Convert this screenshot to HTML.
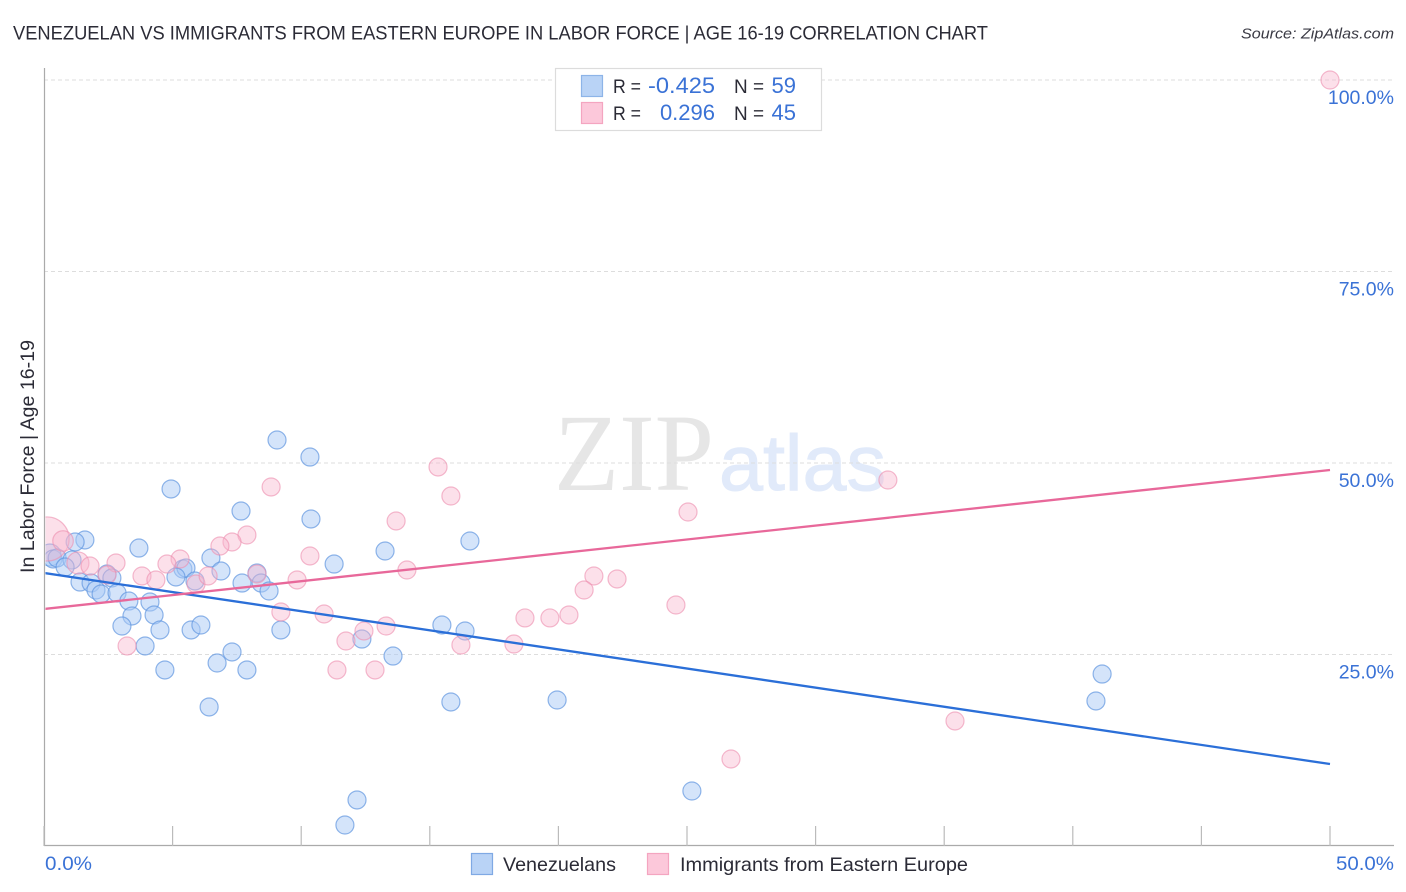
<!DOCTYPE html>
<html lang="en">
<head>
<meta charset="utf-8">
<title>Venezuelan vs Immigrants from Eastern Europe in Labor Force | Age 16-19 Correlation Chart</title>
<style>
html,body{margin:0;padding:0;background:#fff;width:1406px;height:892px;overflow:hidden}
svg{display:block;font-family:"Liberation Sans",sans-serif}
</style>
</head>
<body>
<svg id="chart" xmlns="http://www.w3.org/2000/svg" width="1406" height="892" viewBox="0 0 1406 892">
  <defs>
    <clipPath id="plot-clip"><rect x="45.5" y="60" width="1350" height="786"/></clipPath>
  </defs>
  <rect width="1406" height="892" fill="#ffffff"/>
  <text x="13" y="39.5" font-size="19.5" fill="#2b2b36" textLength="975" lengthAdjust="spacingAndGlyphs">VENEZUELAN VS IMMIGRANTS FROM EASTERN EUROPE IN LABOR FORCE | AGE 16-19 CORRELATION CHART</text>
  <text x="1394" y="38.5" font-size="15" font-style="italic" fill="#3a3a44" text-anchor="end" textLength="153" lengthAdjust="spacingAndGlyphs">Source: ZipAtlas.com</text>
  <g>
    <text x="554" y="490" font-family="'Liberation Serif',serif" font-size="110" fill="#e6e6e6" textLength="160" lengthAdjust="spacingAndGlyphs">ZIP</text>
    <text x="719" y="490" font-size="79" fill="#e1eafa" stroke="#e1eafa" stroke-width="1" textLength="167" lengthAdjust="spacingAndGlyphs">atlas</text>
  </g>
  <g id="grid"></g>
  <g id="axes"></g>
  <g clip-path="url(#plot-clip)">
    <g id="points-blue"></g>
    <g id="points-pink"></g>
    <g id="trends"></g>
  </g>
  <text transform="translate(34,573) rotate(-90)" font-size="19.5" fill="#2b2b36" textLength="233" lengthAdjust="spacingAndGlyphs">In Labor Force | Age 16-19</text>

  <g>
    <rect x="555.5" y="68.5" width="266" height="62" fill="#ffffff" stroke="#dcdcdc" stroke-width="1.2"/>
    <rect x="581.5" y="75.5" width="21" height="21" fill="#b9d3f6" stroke="#8db4e8" stroke-width="1.2"/>
    <rect x="581.5" y="102.5" width="21" height="21" fill="#fcc8da" stroke="#f4a5c0" stroke-width="1.2"/>
    <text x="613" y="93" font-size="19.5" fill="#2b2b36" textLength="28" lengthAdjust="spacingAndGlyphs">R =</text>
    <text x="648" y="93" font-size="22" fill="#3a72d6" textLength="67" lengthAdjust="spacingAndGlyphs">-0.425</text>
    <text x="734" y="93" font-size="19.5" fill="#2b2b36" textLength="30" lengthAdjust="spacingAndGlyphs">N =</text>
    <text x="796" y="93" font-size="22" fill="#3a72d6" text-anchor="end">59</text>
    <text x="613" y="120" font-size="19.5" fill="#2b2b36" textLength="28" lengthAdjust="spacingAndGlyphs">R =</text>
    <text x="715" y="120" font-size="22" fill="#3a72d6" text-anchor="end">0.296</text>
    <text x="734" y="120" font-size="19.5" fill="#2b2b36" textLength="30" lengthAdjust="spacingAndGlyphs">N =</text>
    <text x="796" y="120" font-size="22" fill="#3a72d6" text-anchor="end">45</text>
  </g>

  <g>
    <rect x="471.5" y="853.5" width="21" height="21" fill="#b9d3f6" stroke="#7fa9e4" stroke-width="1.2"/>
    <text x="503" y="871" font-size="19.5" fill="#2b2b36" textLength="113" lengthAdjust="spacingAndGlyphs">Venezuelans</text>
    <rect x="647.5" y="853.5" width="21" height="21" fill="#fcc8da" stroke="#f4a5c0" stroke-width="1.2"/>
    <text x="680" y="871" font-size="19.5" fill="#2b2b36" textLength="288" lengthAdjust="spacingAndGlyphs">Immigrants from Eastern Europe</text>
  </g>
</svg>
<script>
// Chart data (x and y in percent)
var yTickValues = [25, 50, 75, 100];
var yTickLabels = ["25.0%", "50.0%", "75.0%", "100.0%"];
var xTickValues = [0, 5, 10, 15, 20, 25, 30, 35, 40, 45, 50];
var xEndLabels = ["0.0%", "50.0%"];

var venezuelanX = [9.06,10.34,4.94,7.66,10.38,1.59,1.21,3.69,0.23,0.35,0.51,1.09,0.82,6.49,5.40,5.52,5.13,6.88,5.87,8.28,7.70,8.44,8.75,11.28,1.40,1.83,2.02,2.22,2.45,2.64,2.84,3.30,4.12,3.42,4.28,3.03,4.51,5.72,6.10,9.21,3.93,7.31,6.73,4.70,7.89,6.42,13.26,16.56,15.47,16.37,12.36,13.57,15.82,19.95,41.14,40.90,25.19,12.17,11.70];
var venezuelanY = [53.00,50.78,46.61,43.73,42.69,39.95,39.69,38.90,37.99,37.47,37.60,37.34,36.42,37.60,36.16,36.29,35.12,35.90,34.60,35.64,34.33,34.33,33.29,36.81,34.46,34.33,33.42,32.90,35.51,34.99,33.03,31.98,31.85,30.03,30.16,28.72,28.20,28.20,28.85,28.20,26.11,25.33,23.89,22.98,22.98,18.15,38.51,39.82,28.85,28.07,27.02,24.80,18.80,19.06,22.45,18.93,7.18,6.01,2.74];
var venezuelanWeight = [1,1,1,1,1,1,1,1,1.5,1,1,1,1,1,1,1,1,1,1,1,1,1,1,1,1,1,1,1,1,1,1,1,1,1,1,1,1,1,1,1,1,1,1,1,1,1,1,1,1,1,1,1,1,1,1,1,1,1,1];

var immigrantX = [50.00,32.81,15.32,15.82,8.83,25.04,13.69,7.89,7.31,6.84,5.29,10.34,14.11,21.38,22.28,21.00,9.84,24.57,9.21,10.89,18.70,19.67,20.41,13.30,12.44,11.74,16.21,18.27,11.39,12.87,35.42,26.71,3.23,0.12,0.74,1.32,1.79,2.80,2.45,3.81,4.35,4.78,5.91,6.38,8.28];
var immigrantY = [100.00,47.78,49.48,45.69,46.87,43.60,42.43,40.60,39.69,39.16,37.47,37.86,36.03,35.25,34.86,33.42,34.73,31.46,30.55,30.29,29.77,29.77,30.16,28.72,28.07,26.76,26.24,26.37,22.98,22.98,16.32,11.36,26.11,40.08,39.82,36.95,36.55,36.95,35.38,35.25,34.73,36.81,34.20,35.25,35.51];
var immigrantWeight = [1,1,1,1,1,1,1,1,1,1,1,1,1,1,1,1,1,1,1,1,1,1,1,1,1,1,1,1,1,1,1,1,1,6,1.3,1.5,1,1,1,1,1,1,1,1,1];

var venezuelanTrend = [35.64, 10.70];
var immigrantTrend = [30.94, 49.09];
var trendXDomain = [0, 50];

// Axis functions
var NS = "http://www.w3.org/2000/svg";
function xScale(v) { return 44 + v * 25.72; }
function yScale(v) { return 846 - v * 7.66; }
function rScale(w) { return 9 * Math.sqrt(w); }
function make(tag, parent, attrs) {
  var el = document.createElementNS(NS, tag);
  for (var k in attrs) { el.setAttribute(k, attrs[k]); }
  parent.appendChild(el);
  return el;
}

var grid = document.getElementById("grid");
var axes = document.getElementById("axes");

yTickValues.forEach(function (v, i) {
  var y = yScale(v);
  var line = make("line", grid, {x1: 44, x2: 1394, y1: y, y2: y, stroke: "#dddddd", "stroke-width": 1, "stroke-dasharray": "4 3"});
  
  
  var label = make("text", axes, {x: 1394, y: y + 24, "font-size": 19.5, fill: "#3a72d6", "text-anchor": "end"});
  
  
  label.textContent = yTickLabels[i];
});

var yAxis = make("line", axes, {x1: 44.5, x2: 44.5, y1: 68, y2: 846, stroke: "#aaaaaa", "stroke-width": 1.2});


var xAxis = make("line", axes, {x1: 44, x2: 1394, y1: 845.5, y2: 845.5, stroke: "#aaaaaa", "stroke-width": 1.2});



xTickValues.forEach(function (v) {
  var x = xScale(v);
  var tick = make("line", axes, {x1: x, x2: x, y1: 826, y2: 846, stroke: "#bbbbbb", "stroke-width": 1.2});
  
  
});

var xLabelStart = make("text", axes, {x: 45, y: 870, "font-size": 19.5, fill: "#3a72d6", textLength: 47, lengthAdjust: "spacingAndGlyphs"});


xLabelStart.textContent = xEndLabels[0];
var xLabelEnd = make("text", axes, {x: 1336, y: 870, "font-size": 19.5, fill: "#3a72d6", textLength: 58, lengthAdjust: "spacingAndGlyphs"});


xLabelEnd.textContent = xEndLabels[1];

var blueGroup = document.getElementById("points-blue");
venezuelanX.forEach(function (v, i) {
  var c = make("circle", blueGroup, {cx: xScale(v), cy: yScale(venezuelanY[i]), r: rScale(venezuelanWeight[i]), fill: "#a9c9f5", "fill-opacity": 0.5, stroke: "#5d93de", "stroke-opacity": 0.68, "stroke-width": 1.2});
  
  
});

var pinkGroup = document.getElementById("points-pink");
immigrantX.forEach(function (v, i) {
  var c = make("circle", pinkGroup, {cx: xScale(v), cy: yScale(immigrantY[i]), r: rScale(immigrantWeight[i]), fill: "#f9b6cd", "fill-opacity": 0.42, stroke: "#ee8fb0", "stroke-opacity": 0.62, "stroke-width": 1.2});
  
  
});

var trends = document.getElementById("trends");
var blueLine = make("line", trends, {x1: xScale(trendXDomain[0]), y1: yScale(venezuelanTrend[0]), x2: xScale(trendXDomain[1]), y2: yScale(venezuelanTrend[1]), stroke: "#2b6fd8", "stroke-width": 2.3});


var pinkLine = make("line", trends, {x1: xScale(trendXDomain[0]), y1: yScale(immigrantTrend[0]), x2: xScale(trendXDomain[1]), y2: yScale(immigrantTrend[1]), stroke: "#e8689a", "stroke-width": 2.3});


</script>
</body>
</html>
